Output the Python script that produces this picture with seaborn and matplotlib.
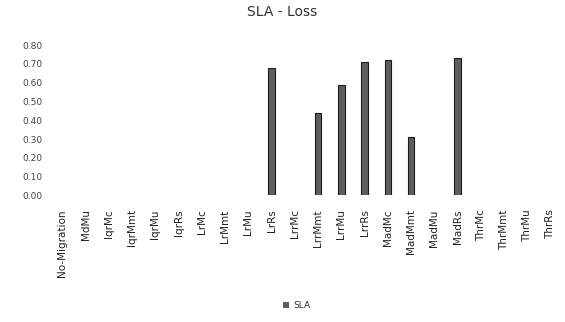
import seaborn as sns
import matplotlib.pyplot as plt
import pandas as pd

# data
categories = ['No-Migration', 'MdMu', 'IqrMc', 'IqrMmt', 'IqrMu', 'IqrRs',
              'LrMc', 'LrMmt', 'LrMu', 'LrRs', 'LrrMc', 'LrrMmt', 'LrrMu',
              'LrrRs', 'MadMc', 'MadMmt', 'MadMu', 'MadRs', 'ThrMc',
              'ThrMmt', 'ThrMu', 'ThrRs']
sla = [0, 0, 0, 0, 0, 0, 0, 0, 0, 0.68, 0, 0.44, 0.59, 0.71, 0.72, 0.31,
       0, 0.73, 0, 0, 0, 0]
yticks = [0.0, 0.1, 0.2, 0.3, 0.4, 0.5, 0.6, 0.7, 0.8]

df = pd.DataFrame({'config': categories, 'SLA': sla})

sns.set_style("white")
plt.rcParams['font.family'] = ['DejaVu Sans']

fig = plt.figure(figsize=(5.65, 3.22), dpi=100)
ax = fig.add_axes([0.09, 0.393, 0.905, 0.467])

sns.barplot(data=df, x='config', y='SLA', color='#5e5e5e', width=0.28,
            edgecolor='#1a1a1a', linewidth=0.8, label='SLA', ax=ax)

# hide the outline of empty bars
for p in ax.patches:
    if p.get_height() == 0:
        p.set_linewidth(0)

ax.set_ylim(0, 0.8)
ax.set_yticks(yticks)
ax.set_yticklabels([f'{v:.2f}' for v in yticks], fontsize=6.5, color='#444444')
ax.set_xticks(range(len(categories)))
ax.set_xticklabels(categories, rotation=90, fontsize=7.5, color='#222222')
ax.tick_params(axis='y', length=0, pad=6)
ax.tick_params(axis='x', length=0, pad=10)
ax.set_xlabel('')
ax.set_ylabel('')
for s in ax.spines.values():
    s.set_visible(False)

fig.suptitle('SLA - Loss', x=0.5, y=0.985, fontsize=10, color='#333333')

ax.legend(loc='center', bbox_to_anchor=(0.525, 0.05),
          bbox_transform=fig.transFigure, frameon=False, fontsize=6.5,
          handlelength=0.7, handleheight=0.7, handletextpad=0.4)

fig.savefig('out.png', dpi=100)
